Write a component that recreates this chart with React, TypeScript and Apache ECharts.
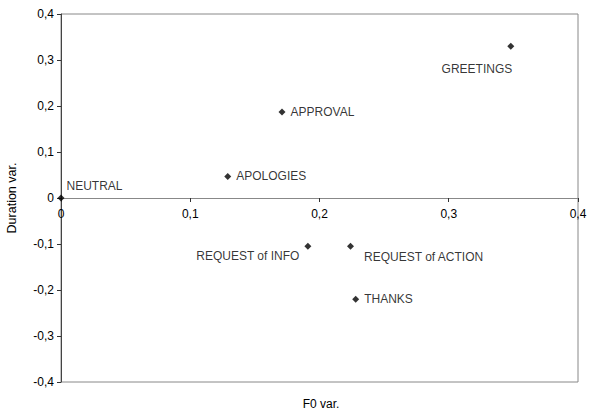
import React, { useEffect, useRef } from "react";
import * as echarts from "echarts";

const categories = [
  "NEUTRAL",
  "APOLOGIES",
  "APPROVAL",
  "GREETINGS",
  "REQUEST of INFO",
  "REQUEST of ACTION",
  "THANKS",
];
const f0Var = [0, 0.129, 0.171, 0.348, 0.191, 0.224, 0.228];
const durationVar = [0, 0.047, 0.187, 0.33, -0.105, -0.105, -0.22];

const xTicks = [0, 0.1, 0.2, 0.3, 0.4];
const yTicks = [-0.4, -0.3, -0.2, -0.1, 0, 0.1, 0.2, 0.3, 0.4];

// label placement (layout only)
const labelPlacement: Record<string, { position: string; distance: number; offset: number[] }> = {
  NEUTRAL: { position: "right", distance: 2, offset: [0, -12] },
  APOLOGIES: { position: "right", distance: 5, offset: [0, 0] },
  APPROVAL: { position: "right", distance: 5, offset: [0, 0] },
  GREETINGS: { position: "left", distance: 5, offset: [10, 23] },
  "REQUEST of INFO": { position: "left", distance: 5, offset: [0, 10] },
  "REQUEST of ACTION": { position: "right", distance: 5, offset: [5, 11] },
  THANKS: { position: "right", distance: 5, offset: [0, 0] },
};

const FONT = "'Liberation Sans', Arial, sans-serif";
const fmt = (v: number) => {
  const r = Math.round(v * 10) / 10;
  if (r === 0) return "0";
  return r.toFixed(1).replace(".", ",");
};

const GRID_TOP = 14;
const GRID_BOTTOM = 30;
const CHART_H = 412;

export default function App() {
  const ref = useRef<HTMLDivElement>(null);
  useEffect(() => {
    if (!ref.current) return;
    const chart = echarts.init(ref.current, undefined, { renderer: "svg" });
    const data = categories.map((name, i) => {
      const p = labelPlacement[name];
      return {
        name,
        value: [f0Var[i], durationVar[i]],
        label: {
          show: true,
          formatter: name,
          position: p.position,
          distance: p.distance,
          offset: p.offset,
        },
      };
    });
    const plotH = CHART_H - GRID_TOP - GRID_BOTTOM;
    const yMin = yTicks[0];
    const yMax = yTicks[yTicks.length - 1];
    // move the x axis from the bottom of the grid up to y = 0
    const zeroOffset = -plotH * ((0 - yMin) / (yMax - yMin));
    chart.setOption({
      animation: false,
      backgroundColor: "#ffffff",
      textStyle: { fontFamily: FONT },
      grid: {
        left: 61,
        top: GRID_TOP,
        right: 11,
        bottom: GRID_BOTTOM,
        show: true,
        borderColor: "#888888",
        borderWidth: 1,
        containLabel: false,
        outerBoundsMode: "none",
      },
      xAxis: {
        type: "value",
        position: "bottom",
        offset: zeroOffset,
        min: xTicks[0],
        max: xTicks[xTicks.length - 1],
        interval: 0.1,
        axisLine: { show: true, onZero: false, lineStyle: { color: "#888888", width: 1 } },
        axisTick: { show: true, inside: false, length: 4, lineStyle: { color: "#333333" } },
        axisLabel: {
          show: true,
          margin: 10,
          color: "#000000",
          fontSize: 12,
          fontFamily: FONT,
          formatter: (v: number) => fmt(v),
        },
        splitLine: { show: false },
      },
      yAxis: {
        type: "value",
        min: yMin,
        max: yMax,
        interval: 0.1,
        name: "Duration var.",
        nameLocation: "middle",
        nameGap: 43,
        nameTextStyle: { color: "#000000", fontSize: 12.5, fontFamily: FONT },
        axisLine: { show: true, onZero: false, lineStyle: { color: "#444444", width: 1 } },
        axisTick: { show: true, inside: false, length: 4, lineStyle: { color: "#333333" } },
        axisLabel: {
          show: true,
          margin: 7,
          color: "#000000",
          fontSize: 12,
          fontFamily: FONT,
          formatter: (v: number) => fmt(v),
        },
        splitLine: { show: false },
      },
      graphic: [
        {
          type: "text",
          x: 321,
          y: 404,
          style: {
            text: "F0 var.",
            fill: "#000000",
            font: `12px ${FONT}`,
            align: "center",
            verticalAlign: "middle",
          },
        },
      ],
      series: [
        {
          type: "scatter",
          symbol: "diamond",
          symbolSize: 7,
          itemStyle: { color: "#000000" },
          label: {
            color: "#000000",
            fontSize: 12,
            fontFamily: FONT,
          },
          data,
        },
      ],
    });
    return () => chart.dispose();
  }, []);
  return (
    <div
      ref={ref}
      style={{ position: "fixed", left: 0, top: 0, width: 589, height: 412, background: "#fff" }}
    />
  );
}
